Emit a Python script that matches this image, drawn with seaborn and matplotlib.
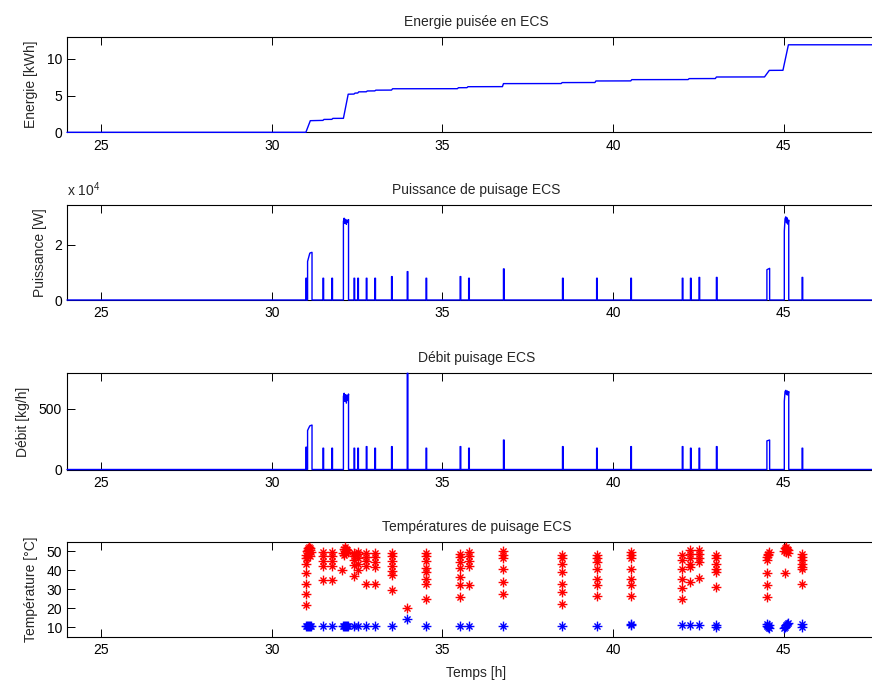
import numpy as np
import matplotlib
matplotlib.use("Agg")
import matplotlib.pyplot as plt
from matplotlib.path import Path
from matplotlib.ticker import FuncFormatter
import seaborn as sns

# ---------------------------------------------------------------------------
# Cumulative energy drawn as domestic hot water [kWh]
energy_time = [24.00, 31.00, 31.13, 31.50, 31.53, 31.76, 31.79, 32.10, 32.24,
               32.41, 32.44, 32.52, 32.55, 32.77, 32.80, 33.02, 33.05, 33.51,
               33.54, 35.44, 35.47, 35.72, 35.75, 36.76, 36.79, 38.48, 38.51,
               39.47, 39.50, 40.52, 40.55, 42.20, 42.23, 43.00, 43.03, 44.44,
               44.58, 44.98, 45.14, 48.00]
energy_kwh = [0.00, 0.00, 1.58, 1.62, 1.75, 1.76, 1.89, 1.90, 5.18,
              5.20, 5.33, 5.34, 5.50, 5.51, 5.62, 5.63, 5.73, 5.74,
              5.92, 5.93, 6.06, 6.07, 6.20, 6.21, 6.62, 6.63, 6.76,
              6.77, 6.98, 6.99, 7.16, 7.17, 7.30, 7.31, 7.52, 7.53,
              8.42, 8.43, 11.90, 11.90]

# Draw-off events: start / end time [h], power levels [W], flow levels [kg/h]
draw_start = [31.00, 31.05, 31.50, 31.76, 32.10, 32.41, 32.52, 32.77, 33.02,
              33.51, 33.97, 34.52, 35.52, 35.77, 36.79, 38.52, 39.52, 40.52,
              42.03, 42.27, 42.52, 43.03, 44.51, 45.02, 45.54]
draw_end = [31.02, 31.18, 31.52, 31.78, 32.25, 32.43, 32.54, 32.79, 33.04,
            33.53, 33.99, 34.54, 35.54, 35.79, 36.81, 38.54, 39.54, 40.54,
            42.05, 42.29, 42.54, 43.05, 44.59, 45.15, 45.56]
draw_power = [[7900], [14000, 15500, 17000, 17200, 17300], [7900], [7900],
              [28500, 29700, 27800, 29300, 27500, 29000, 28200, 29200],
              [7900], [7900], [7900], [7900], [8500], [10300], [7900],
              [8500], [7900], [11300], [7900], [7900], [7900], [7900],
              [7900], [8200], [8200], [11000, 11500],
              [25000, 29500, 30200, 28000, 29800, 27500, 29000], [8200]]
draw_flow = [[183], [320, 340, 358, 362, 365], [175], [175],
             [600, 626, 560, 615, 545, 610, 570, 620],
             [175], [175], [188], [175], [188], [790], [175],
             [188], [175], [242], [188], [175], [188], [188],
             [175], [175], [188], [235, 242],
             [560, 640, 650, 615, 645, 610, 640], [175]]

# Draw-off temperatures [°C]: hot water (red) and cold water (blue)
hot_time = ([31.00] * 6 + [31.00, 31.02, 31.04, 31.05, 31.07, 31.09, 31.10,
                           31.11, 31.12, 31.13, 31.15]
            + [31.50] * 5 + [31.76] * 5
            + [32.05, 32.08, 32.11, 32.12, 32.14, 32.17, 32.18, 32.20, 32.23]
            + [32.41] * 5 + [32.52] * 5 + [32.77] * 5 + [33.02] * 5
            + [33.51] * 7 + [33.97] + [34.52] * 8 + [35.52] * 7
            + [35.77] * 5 + [36.79] * 6 + [38.52] * 7 + [39.52] * 7
            + [40.52] * 7 + [42.03] * 6 + [42.27] * 6 + [42.52] * 5
            + [43.03] * 6 + [44.51] * 5 + [44.53, 44.55, 44.57]
            + [45.02, 45.05, 45.05, 45.06, 45.08, 45.11, 45.12, 45.14]
            + [45.54] * 7)
hot_temp = ([21.6, 27.7, 33.0, 38.8, 43.5, 46.2] + [48.0, 50.0, 46.5, 50.8,
                                                    51.8, 52.2, 48.8, 51.5,
                                                    47.6, 50.6, 49.8]
            + [35.0, 42.0, 44.9, 47.6, 49.4] + [35.0, 42.3, 44.9, 47.6, 49.4]
            + [40.0, 49.0, 51.0, 48.2, 52.0, 51.4, 48.8, 50.6, 49.8]
            + [37.0, 42.6, 45.3, 47.6, 49.3] + [40.0, 43.5, 46.2, 48.5, 49.8]
            + [33.0, 42.3, 44.9, 47.0, 49.0] + [33.0, 41.8, 44.5, 47.0, 49.0]
            + [29.4, 37.4, 39.5, 42.3, 44.9, 47.6, 49.0] + [20.2]
            + [25.0, 32.6, 35.4, 39.0, 41.0, 44.9, 47.6, 49.0]
            + [26.0, 32.3, 36.7, 41.0, 44.5, 47.0, 48.5]
            + [32.1, 42.0, 44.9, 47.6, 49.4]
            + [27.7, 34.0, 40.4, 46.2, 48.0, 50.0]
            + [22.4, 28.6, 33.0, 39.1, 43.5, 46.2, 47.9]
            + [26.3, 32.4, 35.6, 40.9, 44.5, 46.2, 47.9]
            + [26.3, 32.1, 35.6, 40.9, 46.2, 47.9, 49.6]
            + [25.1, 30.7, 35.6, 40.9, 45.3, 47.9]
            + [33.9, 41.8, 43.5, 46.2, 48.7, 50.5]
            + [36.0, 44.5, 46.2, 48.7, 50.5]
            + [31.3, 39.1, 40.9, 43.5, 46.2, 47.9]
            + [25.9, 32.1, 38.8, 45.3, 47.0] + [47.9, 48.7, 49.6]
            + [50.2, 51.6, 38.3, 49.5, 52.0, 51.4, 49.0, 50.8]
            + [32.5, 40.9, 41.8, 43.5, 45.5, 47.0, 48.7])

cold_time = [31.00, 31.03, 31.06, 31.09, 31.12, 31.15, 31.50, 31.76,
             32.08, 32.11, 32.14, 32.17, 32.20, 32.23, 32.41, 32.52, 32.77,
             33.02, 33.51, 33.97, 34.52, 35.52, 35.77, 36.79, 38.52, 39.52,
             40.52, 40.52, 42.03, 42.27, 42.52, 43.03, 43.03, 44.50, 44.52,
             44.54, 44.56, 44.58, 45.02, 45.05, 45.08, 45.11, 45.14, 45.54,
             45.54]
cold_temp = [10.7, 10.9, 10.6, 10.8, 10.7, 10.9, 10.7, 10.7,
             10.8, 10.6, 10.9, 10.7, 10.8, 10.6, 10.7, 10.7, 10.7,
             10.7, 10.7, 14.6, 10.7, 10.7, 10.7, 10.8, 10.7, 10.9,
             11.2, 11.8, 11.2, 11.2, 11.2, 10.2, 11.4, 11.9, 10.8,
             10.2, 11.2, 9.8, 9.6, 10.3, 11.0, 11.6, 12.0, 10.1,
             11.6]

x_ticks = [25, 30, 35, 40, 45]
titles = ["Energie puisée en ECS", "Puissance de puisage ECS",
          "Débit puisage ECS", "Températures de puisage ECS"]
ylabels = ["Energie [kWh]", "Puissance [W]", "Débit [kg/h]", "Température [°C]"]
x_label = "Temps [h]"
power_exponent = r"x 10$^{4}$"


def pulse_series(starts, ends, levels, t0=24.0, t1=48.0):
    """Rectangular draw-off pulses on a zero baseline."""
    t, v = [t0], [0.0]
    for s, e, lv in zip(starts, ends, levels):
        if len(lv) == 1:
            ts, vs = [s, e], [lv[0], lv[0]]
        else:
            ts, vs = list(np.linspace(s, e, len(lv))), list(lv)
        t += [s] + ts + [e]
        v += [0.0] + vs + [0.0]
    t.append(t1)
    v.append(0.0)
    return np.array(t), np.array(v)


# MATLAB-like asterisk marker: long "+" arms, shorter "x" arms
d = 0.62
star = Path([(-1, 0), (1, 0), (0, -1), (0, 1),
             (-d, -d), (d, d), (-d, d), (d, -d)],
            [Path.MOVETO, Path.LINETO] * 4)

sns.set_theme(style="white")
plt.rcParams["font.family"] = ["Liberation Sans", "DejaVu Sans"]
plt.rcParams["mathtext.fontset"] = "custom"
plt.rcParams["mathtext.rm"] = "Liberation Sans"
plt.rcParams["mathtext.it"] = "Liberation Sans:italic"

# The canvas is drawn wider than the saved picture: the time axis runs on
# past the right border of the exported image.
OUT_W, OUT_H = 872, 680
W, H = 920.0, 680.0
fig = plt.figure(figsize=(W / 100, H / 100), dpi=100)
fig.patch.set_facecolor("white")

left_px, right_px = 67.0, 886.0
panels_px = [(36.7, 132.3), (205.0, 300.0), (373.3, 469.5), (541.7, 637.0)]
ylabel_x = [-0.035, -0.024, -0.045, -0.035]
axes = []
for top, bot in panels_px:
    ax = fig.add_axes([left_px / W, 1 - bot / H, (right_px - left_px) / W,
                       (bot - top) / H])
    axes.append(ax)

fs = 10
blue = "#0000ff"
red = "#ff0000"

# Energy
ax = axes[0]
sns.lineplot(x=energy_time, y=energy_kwh, sort=False, estimator=None,
             color=blue, lw=1.0, ax=ax, clip_on=False, zorder=3)
ax.set_ylim(0, 13)
ax.set_yticks([0, 5, 10])

# Power
ax = axes[1]
tp, vp = pulse_series(draw_start, draw_end, draw_power)
sns.lineplot(x=tp, y=vp, sort=False, estimator=None, color=blue, lw=1.0,
             ax=ax, clip_on=False, zorder=3)
ax.set_ylim(0, 34500)
ax.set_yticks([0, 20000])
ax.yaxis.set_major_formatter(FuncFormatter(lambda v, _: f"{v / 1e4:g}"))
ax.annotate(power_exponent, xy=(0, 1), xycoords="axes fraction",
            xytext=(0, 4), textcoords="offset points", ha="left",
            va="bottom", fontsize=fs)

# Flow
ax = axes[2]
tf, vf = pulse_series(draw_start, draw_end, draw_flow)
sns.lineplot(x=tf, y=vf, sort=False, estimator=None, color=blue, lw=1.0,
             ax=ax, clip_on=False, zorder=3)
ax.set_ylim(0, 790)
ax.set_yticks([0, 500])

# Temperatures
ax = axes[3]
sns.scatterplot(x=hot_time, y=hot_temp, marker=star, s=50, color=red,
                edgecolor=red, linewidth=1.0, ax=ax, zorder=3)
sns.scatterplot(x=cold_time, y=cold_temp, marker=star, s=50, color=blue,
                edgecolor=blue, linewidth=1.0, ax=ax, zorder=3)
ax.set_ylim(4.9, 55.0)
ax.set_yticks([10, 20, 30, 40, 50])
ax.set_xlabel(x_label, fontsize=fs)
ax.xaxis.set_label_coords(0.5, -0.30)

for ax, title, lab, lx in zip(axes, titles, ylabels, ylabel_x):
    ax.set_xlim(24, 48)
    ax.set_xticks(x_ticks)
    ax.set_facecolor("white")
    ax.set_title(title, fontsize=fs, pad=8.0)
    ax.set_ylabel(lab, fontsize=fs)
    ax.yaxis.set_label_coords(lx, 0.5)
    if ax is not axes[3]:
        ax.set_xlabel("")
    for sp in ax.spines.values():
        sp.set_visible(True)
        sp.set_color("black")
        sp.set_linewidth(0.8)
    ax.tick_params(axis="x", which="both", direction="in", length=5.8,
                   width=0.7, top=True, bottom=True, labelsize=fs, pad=4.5,
                   colors="black")
    ax.tick_params(axis="y", which="both", direction="in", length=5.8,
                   width=0.7, left=True, right=True, labelsize=fs, pad=3.5,
                   colors="black")
    ax.grid(False)

# Render, then keep the left 872 pixels as the exported picture
fig.canvas.draw()
rgba = np.asarray(fig.canvas.buffer_rgba())[:OUT_H, :OUT_W, :3].copy()
plt.imsave("out.png", rgba)
